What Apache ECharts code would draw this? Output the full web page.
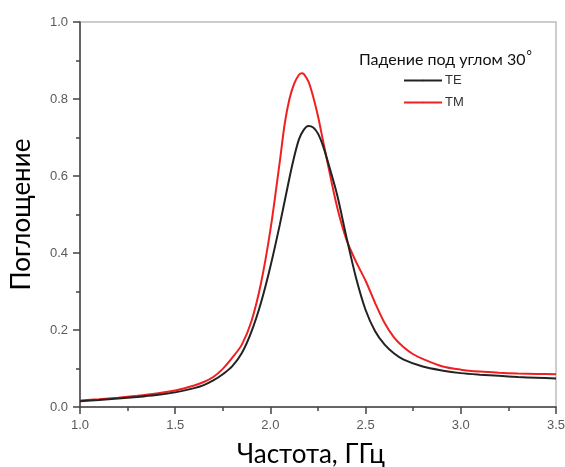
<!DOCTYPE html>
<html>
<head>
<meta charset="utf-8">
<script src="https://cdn.jsdelivr.net/npm/echarts@6/dist/echarts.min.js"></script>
<style>
  html, body { margin: 0; padding: 0; background: #fff; }
  #chart { width: 565px; height: 467px; }
</style>
</head>
<body>
<div id="chart"></div>
<script>
// частота, ГГц и поглощение
const freqTE = [1.0, 1.1, 1.2, 1.3, 1.4, 1.5, 1.6, 1.65, 1.7, 1.75, 1.8, 1.85, 1.9, 1.95, 2.0, 2.05, 2.1, 2.125, 2.15, 2.175, 2.2, 2.225, 2.25, 2.275, 2.3, 2.35, 2.4, 2.45, 2.5, 2.55, 2.6, 2.65, 2.7, 2.8, 2.9, 3.0, 3.1, 3.2, 3.3, 3.4, 3.5];
const absTE  = [0.015, 0.018, 0.022, 0.026, 0.031, 0.038, 0.049, 0.057, 0.069, 0.085, 0.106, 0.140, 0.195, 0.270, 0.365, 0.475, 0.595, 0.650, 0.695, 0.720, 0.730, 0.726, 0.710, 0.680, 0.640, 0.552, 0.440, 0.335, 0.252, 0.197, 0.162, 0.139, 0.123, 0.105, 0.095, 0.088, 0.084, 0.081, 0.078, 0.076, 0.074];

const freqTM = [1.0, 1.1, 1.2, 1.3, 1.4, 1.5, 1.6, 1.65, 1.7, 1.75, 1.8, 1.85, 1.9, 1.95, 2.0, 2.05, 2.075, 2.1, 2.125, 2.15, 2.165, 2.175, 2.2, 2.225, 2.25, 2.275, 2.3, 2.35, 2.4, 2.45, 2.5, 2.55, 2.6, 2.65, 2.7, 2.75, 2.8, 2.9, 3.0, 3.1, 3.2, 3.3, 3.4, 3.5];
const absTM  = [0.017, 0.020, 0.024, 0.029, 0.035, 0.043, 0.056, 0.065, 0.078, 0.099, 0.128, 0.162, 0.222, 0.320, 0.460, 0.640, 0.735, 0.800, 0.840, 0.863, 0.867, 0.865, 0.845, 0.805, 0.755, 0.695, 0.635, 0.520, 0.434, 0.377, 0.328, 0.270, 0.218, 0.180, 0.155, 0.137, 0.125, 0.106, 0.097, 0.092, 0.089, 0.087, 0.086, 0.085];

const legendTitle = 'Падение под углом 30';

function pairs(xs, ys) {
    return xs.map((x, i) => [x, ys[i]]);
}

const chart = echarts.init(document.getElementById('chart'));

const tickLabel = { color: '#5a5a5a', fontSize: 13, fontFamily: 'Liberation Sans, Arial, sans-serif', margin: 12 };
const axisColor = '#444';

chart.setOption({
    animation: false,
    grid: {
        left: 80, right: 9, top: 22, bottom: 60,
        containLabel: false,
        outerBoundsMode: 'none',
        show: true, borderColor: '#bdbdbd', borderWidth: 1.5
    },
    title: {
        text: '{t|' + legendTitle + '}{d|°}',
        left: 354, top: 44,
        textStyle: {
            fontWeight: 'normal',
            rich: {
                t: { fontSize: 16, fontWeight: 'normal', color: '#111', fontFamily: 'Lato, sans-serif' },
                d: { fontSize: 13, fontWeight: 'normal', color: '#111', fontFamily: 'Lato, sans-serif', padding: [0, 0, 8, 1] }
            }
        }
    },
    legend: {
        orient: 'vertical',
        left: 398, top: 69,
        itemWidth: 38, itemHeight: 2, itemGap: 9,
        textStyle: { color: '#333', fontSize: 13, fontFamily: 'Liberation Sans, Arial, sans-serif', padding: [0, 0, 0, -2] },
        data: ['TE', 'TM']
    },
    xAxis: {
        type: 'value',
        min: 1.0, max: 3.5, interval: 0.5,
        name: 'Частота, ГГц',
        nameLocation: 'middle',
        nameGap: 35,
        nameTextStyle: { fontSize: 26, color: '#000', fontFamily: 'Lato, sans-serif', padding: [0, 14, 0, 0] },
        axisLine: { lineStyle: { color: axisColor, width: 1.5 } },
        axisTick: { inside: false, length: 7, lineStyle: { color: axisColor, width: 1.5 } },
        minorTick: { show: true, splitNumber: 2, length: 4, lineStyle: { color: axisColor, width: 1.5 } },
        splitLine: { show: false },
        axisLabel: Object.assign({ formatter: v => v.toFixed(1) }, tickLabel)
    },
    yAxis: {
        type: 'value',
        min: 0, max: 1.0, interval: 0.2,
        name: 'Поглощение',
        nameLocation: 'middle',
        nameGap: 45,
        nameTextStyle: { fontSize: 26, color: '#000', fontFamily: 'Lato, sans-serif' },
        axisLine: { show: true, lineStyle: { color: axisColor, width: 1.5 } },
        axisTick: { show: true, inside: false, length: 7, lineStyle: { color: axisColor, width: 1.5 } },
        minorTick: { show: true, splitNumber: 2, length: 4, lineStyle: { color: axisColor, width: 1.5 } },
        splitLine: { show: false },
        axisLabel: Object.assign({ formatter: v => v.toFixed(1) }, tickLabel)
    },
    series: [
        {
            name: 'TE',
            type: 'line',
            data: pairs(freqTE, absTE),
            smooth: 0.3,
            symbol: 'none',
            lineStyle: { color: '#222', width: 2 },
            itemStyle: { color: '#222' },
            z: 3
        },
        {
            name: 'TM',
            type: 'line',
            data: pairs(freqTM, absTM),
            smooth: 0.3,
            symbol: 'none',
            lineStyle: { color: '#f02020', width: 2 },
            itemStyle: { color: '#f02020' },
            z: 2
        }
    ]
});
</script>
</body>
</html>
